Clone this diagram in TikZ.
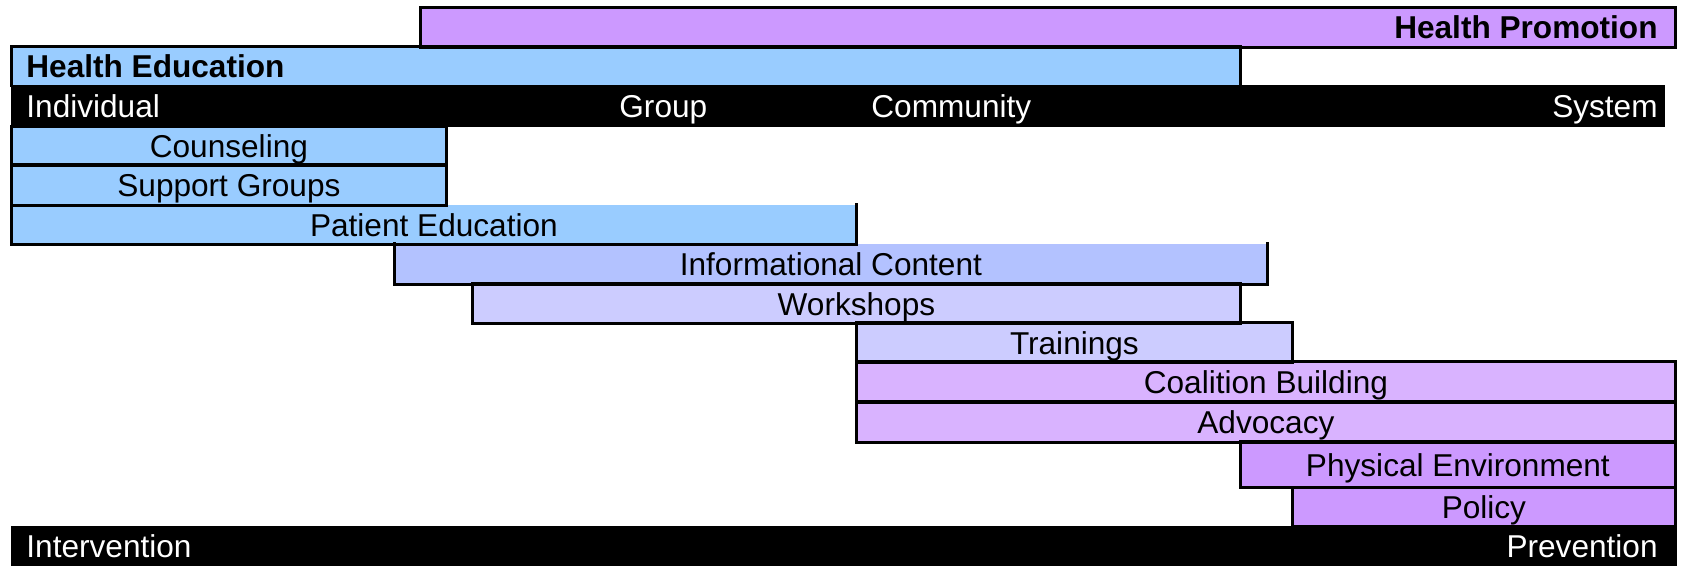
\documentclass[tikz,border=0pt]{standalone}
\usepackage{fontspec}
\setmainfont{Liberation Sans}
\definecolor{hpPurple}{RGB}{204,153,255}
\definecolor{heBlue}{RGB}{153,204,255}
\definecolor{infoBlue}{RGB}{179,194,255}
\definecolor{lavender}{RGB}{204,204,255}
\definecolor{lilac}{RGB}{217,179,255}
\begin{document}
\begin{tikzpicture}[x=0.5pt,y=-0.5pt,
  txt/.style={font=\fontsize{15.8}{19}\selectfont, text height=11.3pt, text depth=0pt},
  fillbox/.style={rectangle, inner sep=0pt, anchor=north west, txt},
  lbl/.style={inner sep=0pt, txt},
  whitelbl/.style={lbl, text=white},
  boldlbl/.style={lbl, font=\fontsize{15.8}{19}\selectfont\bfseries},
  rim/.style={line width=1.5pt, line join=miter, line cap=rect}
]
\useasboundingbox (0,0) rectangle (1681,566);

% fills
\node[fillbox, fill=hpPurple, minimum width=627.5pt, minimum height=19.5pt] (hp) at (420,8) {};
\node[fillbox, fill=heBlue, minimum width=614.5pt, minimum height=19pt] (he) at (11,47) {};
\node[fillbox, fill=black, minimum width=827pt, minimum height=21pt] (topbar) at (11,85) {};
\node[fillbox, fill=heBlue, minimum width=217.5pt, minimum height=19pt] (coun) at (11,127) {Counseling};
\node[fillbox, fill=heBlue, minimum width=217.5pt, minimum height=20pt] (supp) at (11,165) {Support Groups};
\node[fillbox, fill=heBlue, minimum width=422.5pt, minimum height=19.5pt] (pated) at (11,205) {Patient Education};
\node[fillbox, fill=infoBlue, minimum width=436.5pt, minimum height=20pt] (info) at (394,244) {Informational Content};
\node[fillbox, fill=lavender, minimum width=384pt, minimum height=19.5pt] (work) at (472,284) {Workshops};
\node[fillbox, fill=lavender, minimum width=218pt, minimum height=19.5pt] (train) at (856,323) {Trainings};
\node[fillbox, fill=lilac, minimum width=409.5pt, minimum height=20pt] (coal) at (856,362) {Coalition Building};
\node[fillbox, fill=lilac, minimum width=409.5pt, minimum height=20pt] (advo) at (856,402) {Advocacy};
\node[fillbox, fill=hpPurple, minimum width=217.5pt, minimum height=22.5pt] (phys) at (1240,442) {Physical Environment};
\node[fillbox, fill=hpPurple, minimum width=191.5pt, minimum height=19.5pt] (poli) at (1292,487) {Policy};
\node[fillbox, fill=black, minimum width=833pt, minimum height=20pt] (botbar) at (11,526) {};

% borders
\draw[rim] (hp.north west) rectangle (hp.south east);
\draw[rim] (he.south west) -- (he.north west) -- (he.north east) -- (he.south east);
\draw[rim] (coun.north west) rectangle (coun.south east);
\draw[rim] (supp.north west) rectangle (supp.south east);
\draw[rim] (pated.north west) -- (pated.south west) -- (pated.south east) -- (pated.north east);
\draw[rim] (info.north west) -- (info.south west) -- (info.south east) -- (info.north east);
\draw[rim] (work.north west) rectangle (work.south east);
\draw[rim] (train.north west) rectangle (train.south east);
\draw[rim] (coal.north west) rectangle (coal.south east);
\draw[rim] (advo.north west) rectangle (advo.south east);
\draw[rim] (phys.north west) rectangle (phys.south east);
\draw[rim] (poli.north west) -- (poli.south west) -- (poli.south east) -- (poli.north east);

% labels
\node[boldlbl, anchor=east] (hpl) at (1658,27.5) {Health Promotion};
\node[boldlbl, anchor=west] (hel) at (26,66) {Health Education};
\node[whitelbl, anchor=west] (indl) at (26,106) {Individual};
\node[whitelbl, anchor=west] (grpl) at (619,106) {Group};
\node[whitelbl, anchor=west] (coml) at (871,106) {Community};
\node[whitelbl, anchor=east] (sysl) at (1658,106) {System};
\node[whitelbl, anchor=west] (intl) at (26,546) {Intervention};
\node[whitelbl, anchor=east] (prel) at (1658,546) {Prevention};
\end{tikzpicture}
\end{document}
